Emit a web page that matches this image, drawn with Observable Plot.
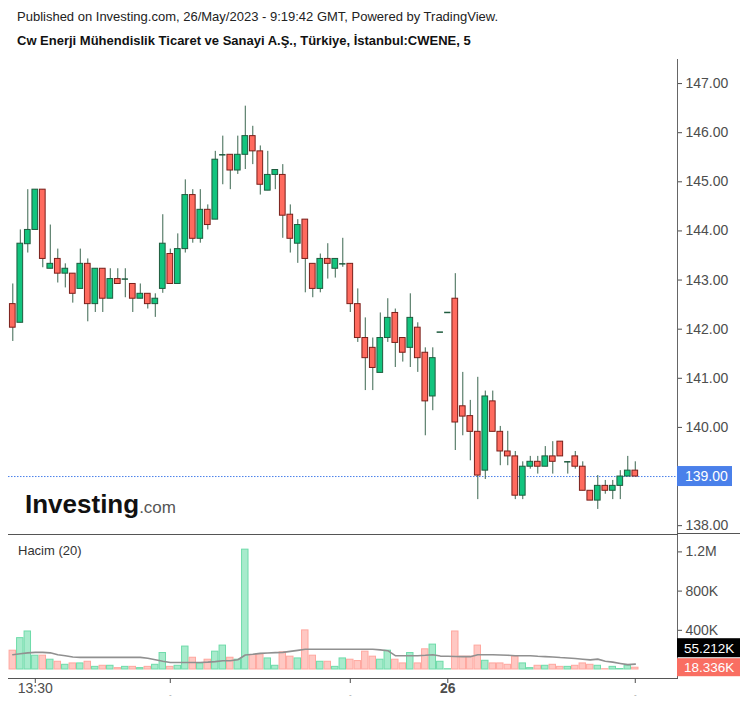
<!DOCTYPE html>
<html><head><meta charset="utf-8">
<script src="https://cdn.jsdelivr.net/npm/d3@7"></script>
<script src="https://cdn.jsdelivr.net/npm/@observablehq/plot@0.6"></script>
<style>
body{margin:0;background:#fff;font-family:"Liberation Sans",Arial,sans-serif;}
#wrap{position:relative;width:747px;height:707px;overflow:hidden;background:#fff;}
.t1{position:absolute;left:17px;top:9px;font-size:13px;line-height:15px;color:#222;white-space:nowrap;}
.t2{position:absolute;left:17px;top:33px;font-size:13px;line-height:15px;font-weight:bold;color:#111;white-space:nowrap;}
#price{position:absolute;left:0;top:59px;z-index:2;}
#vol{position:absolute;left:0;top:534px;z-index:1;}
.logo{position:absolute;left:25px;top:491px;line-height:26px;white-space:nowrap;z-index:3;}
.logo b{font-size:26px;font-weight:bold;color:#111;letter-spacing:0px;}
.logo span{font-size:17px;color:#555;}
.hacim{position:absolute;left:18px;top:543px;font-size:13px;line-height:15px;color:#333;z-index:3;}
</style></head>
<body>
<div id="wrap">
  <div class="t1">Published on Investing.com, 26/May/2023 - 9:19:42 GMT, Powered by TradingView.</div>
  <div class="t2">Cw Enerji Mühendislik Ticaret ve Sanayi A.Ş., Türkiye, İstanbul:CWENE, 5</div>
  <div id="price"></div>
  <div id="vol"></div>
  <div class="logo"><b>Investing</b><span>.com</span></div>
  <div class="hacim">Hacim (20)</div>
</div>
<script>
// ---- data (5-minute candles) ----
const open  = [142.51,142.13,143.73,144.02,144.84,143.23,143.43,143.13,143.13,142.82,143.33,142.51,143.23,142.62,143.02,143.02,142.92,142.62,142.72,142.51,
               142.82,143.53,142.92,143.63,144.73,143.84,144.43,144.23,145.55,145.55,145.23,145.55,145.93,145.62,144.82,145.14,145.14,144.33,143.74,144.23,
               143.33,142.82,143.43,143.23,143.33,143.33,142.51,141.82,141.62,141.11,141.82,142.33,141.82,141.62,142.03,141.52,140.63,141.94,142.34,142.62,
               140.43,140.23,139.91,139.12,140.53,139.91,139.51,139.41,138.61,139.20,139.30,139.20,139.41,139.71,139.30,139.41,139.20,138.71,138.51,138.81,
               138.71,138.81,139.00,139.12];
const high  = [142.92,144.02,144.84,144.84,144.84,144.12,143.63,143.33,143.13,143.63,143.43,143.23,143.23,143.23,143.23,143.23,142.92,142.92,142.72,142.72,
               144.33,143.63,143.94,145.04,144.84,144.84,144.53,145.62,145.93,145.55,145.93,146.54,146.13,145.73,145.62,145.24,145.35,144.53,144.23,144.23,
               143.33,143.53,143.74,143.43,143.85,143.33,142.82,142.23,141.82,142.33,142.62,142.41,141.82,142.72,142.13,141.62,141.62,141.94,142.34,143.13,
               141.12,140.55,141.02,140.74,140.74,140.02,139.92,139.51,139.30,139.41,139.41,139.61,139.71,139.71,139.30,139.51,139.30,138.71,139.02,138.92,
               138.92,139.12,139.41,139.30];
const low   = [141.75,142.13,143.55,144.02,143.25,143.23,142.94,142.84,142.53,142.82,142.15,142.34,142.34,142.62,142.92,142.64,142.34,142.62,142.41,142.24,
               142.73,142.92,142.92,143.55,143.75,143.75,144.02,144.23,144.94,144.84,145.15,145.25,145.35,144.73,144.82,144.84,143.85,143.55,143.34,142.74,
               142.64,142.74,143.02,143.04,143.26,142.34,141.73,140.75,140.75,141.11,141.73,141.22,141.33,141.22,141.12,139.83,140.34,141.94,142.34,139.53,
               139.83,139.32,138.53,138.94,139.91,139.22,139.22,138.53,138.53,139.15,139.05,139.20,139.05,139.41,139.05,139.15,138.71,138.51,138.33,138.64,
               138.53,138.53,139.00,139.00];
const close = [142.03,143.74,144.02,144.84,143.43,143.33,143.13,143.23,142.72,143.33,142.51,143.23,142.62,143.02,142.92,143.02,142.62,142.72,142.51,142.62,
               143.74,142.92,143.63,144.73,143.84,144.43,144.12,145.45,145.55,145.23,145.55,145.93,145.62,144.94,145.14,145.24,144.31,143.84,144.12,143.43,
               142.82,143.43,143.33,143.43,143.33,142.51,141.82,141.41,141.21,141.82,142.23,141.72,141.52,142.23,141.41,140.53,141.41,141.94,142.34,140.10,
               140.22,139.91,139.02,140.63,139.91,139.51,139.41,138.61,139.20,139.30,139.20,139.41,139.30,139.41,139.30,139.20,138.71,138.51,138.81,138.71,
               138.81,139.00,139.12,139.00];
// volume in thousands
const volume = [192,320,388,141,141,100,79,48,62,62,79,27,38,38,14,27,27,14,27,48,
                168,27,38,234,120,62,100,182,244,120,100,1223,148,155,113,38,175,131,113,399,
                141,79,79,27,113,100,86,182,131,100,192,100,62,168,62,206,254,79,3,388,
                131,131,244,89,62,62,48,131,62,14,38,38,48,27,27,38,62,48,38,3,
                27,5,38,18.336];
// 20-period volume average, thousands
const volMA = [151,160,170,175,175,170,150,140,128,124,124,124,124,124,124,124,124,124,115,100,
               85,72,72,72,72,72,75,80,89,89,100,148,155,165,168,172,175,185,195,206,
               206,206,206,206,206,206,206,206,206,200,192,141,141,141,141,145,151,137,135,133,
               131,131,151,151,151,148,145,141,141,141,135,131,128,122,118,113,105,98,106,85,
               75,62,50,55.212];
const priceTicks = [138,139,140,141,142,143,144,145,146,147];
const volTicks = [400000,800000,1200000];
const volTickLabels = ["400K","800K","1.2M"];
const timeTickIdx = [3,21,45,58,83];
const timeTickLabels = ["13:30","-","-","26","-"];
const lastPrice = 139.00;

// ---- build ----
const W = 747;
const xDomain = [-0.573, 88.63];
const UP = "#12c47e", UPB = "#1e5b3e", DN = "#ff6a5e", DNB = "#7a1f1a", WICK = "#3b6650";
const candles = open.map((o, i) => ({i, o, h: high[i], l: low[i], c: close[i], up: close[i] >= o}));
const bodies = candles.filter(d => Math.abs(d.o - d.c) > 0.005);
const dojis = candles.filter(d => Math.abs(d.o - d.c) <= 0.005);
const font = "'Liberation Sans', Arial, sans-serif";

const price = Plot.plot({
  width: W, height: 475, marginLeft: 8, marginRight: 70, marginTop: 0, marginBottom: 0,
  x: {domain: xDomain, axis: null},
  y: {domain: [137.82, 147.49], axis: null},
  color: {type: "identity"},
  style: {background: "transparent", overflow: "visible", fontFamily: font, fontSize: "14px", color: "#4d4d4d"},
  marks: [
    Plot.axisY(priceTicks, {anchor: "right", tickFormat: d => d.toFixed(2), tickSize: 4, tickPadding: 4, label: null}),
    Plot.frame({anchor: "right", stroke: "#666"}),
    Plot.frame({anchor: "bottom", stroke: "#555"}),
    Plot.ruleY([lastPrice], {stroke: "#4a80ea", strokeDasharray: "1.5,1.5"}),
    Plot.ruleX(candles, {x: "i", y1: "l", y2: "h", stroke: WICK, strokeWidth: 1}),
    Plot.rect(bodies, {x1: d => d.i - 0.38, x2: d => d.i + 0.38, y1: "o", y2: "c",
      fill: d => d.up ? UP : DN, stroke: d => d.up ? UPB : DNB, strokeWidth: 1}),
    Plot.ruleY(dojis, {y: "o", x1: d => d.i - 0.42, x2: d => d.i + 0.42, stroke: UPB, strokeWidth: 1.5})
  ]
});
document.getElementById("price").appendChild(price);
{
  const svg = d3.select(price);
  const y = price.scale("y").apply(lastPrice);
  svg.append("line").attr("x1", 677).attr("x2", 740).attr("y1", 474.5).attr("y2", 474.5).attr("stroke", "#555");
  svg.append("rect").attr("x", 677).attr("y", y - 10).attr("width", 55).attr("height", 20).attr("fill", "#4a80ea");
  svg.append("text").attr("x", 685).attr("y", y + 5).attr("fill", "#fff").attr("font-size", 14)
    .attr("text-anchor", "start").attr("font-family", font).text(lastPrice.toFixed(2));
}

const vdata = volume.map((v, i) => ({i, v: v * 1000, ma: volMA[i] * 1000, up: close[i] >= open[i]}));
const tickRows = timeTickIdx.map((i, k) => ({i, t: timeTickLabels[k]}));
const vol = Plot.plot({
  width: W, height: 173, marginLeft: 8, marginRight: 70, marginTop: 0, marginBottom: 29,
  x: {domain: xDomain, axis: null},
  y: {domain: [-91800, 1377600], axis: null},
  color: {type: "identity"},
  style: {background: "transparent", overflow: "visible", fontFamily: font, fontSize: "14px", color: "#4d4d4d"},
  marks: [
    Plot.rect(vdata, {x1: d => d.i - 0.43, x2: d => d.i + 0.43, y1: 0, y2: "v",
      fill: d => d.up ? "#a7ebcc" : "#ffc8c3", stroke: d => d.up ? "#6edba9" : "#ffa79f", strokeWidth: 1}),
    Plot.line(vdata, {x: "i", y: "ma", stroke: "#909090", strokeWidth: 1.6}),
    Plot.axisY(volTicks, {anchor: "right", tickFormat: (d, k) => volTickLabels[k], tickSize: 4, tickPadding: 4, label: null}),
    Plot.frame({anchor: "right", stroke: "#666"}),
    Plot.frame({anchor: "bottom", stroke: "#555"}),
    Plot.axisX(timeTickIdx, {anchor: "bottom", tickSize: 5, tickFormat: () => "", label: null}),
    Plot.text(tickRows.filter(d => d.t !== "-" && d.t !== "26"), {x: "i", text: "t", frameAnchor: "bottom", dy: 14, fontSize: 14, fill: "#4d4d4d"}),
    Plot.text(tickRows.filter(d => d.t === "26"), {x: "i", text: "t", frameAnchor: "bottom", dy: 14, fontSize: 14, fontWeight: "bold", fill: "#4d4d4d"}),
    Plot.text(tickRows.filter(d => d.t === "-"), {x: "i", text: "t", frameAnchor: "bottom", dy: 18, fontSize: 8, fill: "#999"})
  ]
});
document.getElementById("vol").appendChild(vol);
{
  const svg = d3.select(vol);
  const ys = vol.scale("y");
  const lastVol = volume[volume.length - 1], lastMA = volMA[volMA.length - 1];
  const redTop = ys.apply(lastVol * 1000) - 9;
  const blackTop = redTop - 20;
  const fmt = v => v.toFixed(3) + "K";
  svg.append("rect").attr("x", 677).attr("y", blackTop).attr("width", 63).attr("height", 19).attr("fill", "#000");
  svg.append("text").attr("x", 684).attr("y", blackTop + 14.5).attr("fill", "#fff").attr("font-size", 13.5)
    .attr("text-anchor", "start").attr("font-family", font).text(fmt(lastMA));
  svg.append("rect").attr("x", 677).attr("y", redTop).attr("width", 63).attr("height", 18).attr("fill", "#f96e62");
  svg.append("text").attr("x", 684).attr("y", redTop + 14).attr("fill", "#fff").attr("font-size", 13.5)
    .attr("text-anchor", "start").attr("font-family", font).text(fmt(lastVol));
}
</script>
</body></html>
